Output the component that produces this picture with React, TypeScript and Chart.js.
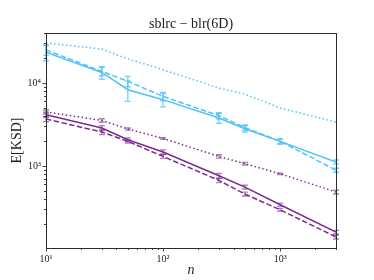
import React, { useEffect, useRef } from 'react';
import { Chart, registerables } from 'chart.js';

Chart.register(...registerables);

// ---- data ----
const nValues = [10, 30, 50, 100, 300, 500, 1000, 3000];

const blueDotted = [30300, 25600, 19500, 14450, 8700, 7360, 5000, 3390];
const blueSolid = [23500, 13400, 8300, 6300, 3790, 2810, 1980, 1120];
const blueDashed = [25000, 13800, 10500, 6900, 4040, 2900, 1990, 890];

const purpleDotted = [4480, 3540, 2790, 2150, 1305, 1067, 807, 486];
const purpleSolid = [4150, 2870, 2075, 1475, 764, 558, 342, 160];
const purpleDashed = [3680, 2570, 1980, 1305, 671, 460, 297, 140];

const blueDottedErr = [0, 0, 0, 0, 0, 0, 0, 0];
const blueSolidErr = [5000, 2300, 2300, 1150, 520, 250, 150, 60];
const blueDashedErr = [3500, 1600, 1500, 800, 350, 220, 120, 50];
const purpleDottedErr = [250, 170, 80, 50, 60, 40, 15, 25];
const purpleSolidErr = [300, 200, 110, 90, 50, 30, 15, 8];
const purpleDashedErr = [250, 180, 90, 70, 40, 25, 12, 8];

const xTickValues = [10, 100, 1000];
const yTickValues = [1000, 10000];

const X_MIN = 10;
const X_MAX = 3000;
const Y_MIN = 103;
const Y_MAX = 40000;

const TITLE = 'sblrc − blr(6D)';
const X_LABEL = 'n';
const Y_LABEL = 'E[KSD]';

const BLUE = '#4fc3f7';
const BLUE_ERR = 'rgba(79,195,247,0.75)';
const PURPLE = '#7b2d8f';
const PURPLE_ERR = 'rgba(123,45,143,0.6)';

const SUP: Record<string, string> = {
  '0': '⁰', '1': '¹', '2': '²', '3': '³', '4': '⁴',
  '5': '⁵', '6': '⁶', '7': '⁷', '8': '⁸', '9': '⁹', '-': '⁻',
};
function powLabel(v: number): string {
  const e = Math.round(Math.log10(v));
  return '10' + String(e).split('').map((c) => SUP[c] || c).join('');
}

const DOTTED = [1.5, 2.5];
const DASHED = [5.5, 2.4];

const titlePlugin = {
  id: 'centeredTitle',
  afterDraw(chart: any) {
    const { ctx, chartArea: a } = chart;
    ctx.save();
    ctx.fillStyle = '#222';
    ctx.font = '14px "Liberation Serif"';
    ctx.textAlign = 'center';
    ctx.textBaseline = 'alphabetic';
    ctx.fillText(TITLE, (a.left + a.right) / 2, 27.5);
    ctx.restore();
  },
};

const framePlugin = {
  id: 'frameTicks',
  afterDraw(chart: any) {
    const { ctx, chartArea: a, scales } = chart;
    const xs = scales.x;
    const ys = scales.y;
    ctx.save();
    ctx.strokeStyle = '#2b2b2b';
    ctx.lineWidth = 0.9;
    ctx.beginPath();
    for (let e = 0; e <= 4; e++) {
      for (let m = 1; m <= 9; m++) {
        const v = m * Math.pow(10, e);
        if (v < X_MIN - 1e-9 || v > X_MAX + 1e-9) continue;
        const px = Math.round(xs.getPixelForValue(v)) + 0.5;
        const len = m === 1 ? 3.5 : 2;
        ctx.moveTo(px, a.bottom);
        ctx.lineTo(px, a.bottom + len);
      }
    }
    for (let e = 1; e <= 5; e++) {
      for (let m = 1; m <= 9; m++) {
        const v = m * Math.pow(10, e);
        if (v < Y_MIN || v > Y_MAX) continue;
        const py = Math.round(ys.getPixelForValue(v)) + 0.5;
        const len = m === 1 ? 3.5 : 2;
        ctx.moveTo(a.left, py);
        ctx.lineTo(a.left - len, py);
      }
    }
    ctx.stroke();
    ctx.lineWidth = 1;
    ctx.strokeRect(
      Math.round(a.left) + 0.5,
      Math.round(a.top) + 0.5,
      Math.round(a.right - a.left),
      Math.round(a.bottom - a.top)
    );
    ctx.restore();
  },
};

const errorBarPlugin = {
  id: 'errorBars',
  afterDatasetsDraw(chart: any) {
    const { ctx, scales } = chart;
    const xs = scales.x;
    const ys = scales.y;
    ctx.save();
    chart.data.datasets.forEach((ds: any, i: number) => {
      if (!chart.isDatasetVisible(i) || !ds.errors) return;
      ctx.strokeStyle = ds.errorColor;
      ctx.lineWidth = 1.4;
      ctx.setLineDash([]);
      ds.data.forEach((v: number, j: number) => {
        const e = ds.errors[j];
        if (!e) return;
        const px = xs.getPixelForValue(nValues[j]);
        const lo = Math.max(v - e, 1);
        const yTop = ys.getPixelForValue(v + e);
        const yBot = ys.getPixelForValue(lo);
        ctx.beginPath();
        ctx.moveTo(px, yTop);
        ctx.lineTo(px, yBot);
        ctx.moveTo(px - 3, yTop);
        ctx.lineTo(px + 3, yTop);
        ctx.moveTo(px - 3, yBot);
        ctx.lineTo(px + 3, yBot);
        ctx.stroke();
      });
    });
    ctx.restore();
  },
};

function makeDataset(
  data: number[],
  errors: number[],
  color: string,
  errColor: string,
  dash: number[]
) {
  return {
    data,
    errors,
    errorColor: errColor,
    borderColor: color,
    backgroundColor: color,
    borderWidth: 1.5,
    borderDash: dash,
    pointRadius: 0,
    tension: 0,
    fill: false,
  };
}

export default function App() {
  const canvasRef = useRef<HTMLCanvasElement | null>(null);

  useEffect(() => {
    document.body.style.margin = '0';
    const canvas = canvasRef.current;
    if (!canvas) return;
    const chart = new Chart(canvas, {
      type: 'line',
      data: {
        labels: nValues,
        datasets: [
          makeDataset(blueDotted, blueDottedErr, BLUE, BLUE_ERR, DOTTED),
          makeDataset(blueSolid, blueSolidErr, BLUE, BLUE_ERR, []),
          makeDataset(blueDashed, blueDashedErr, BLUE, BLUE_ERR, DASHED),
          makeDataset(purpleDotted, purpleDottedErr, PURPLE, PURPLE_ERR, DOTTED),
          makeDataset(purpleSolid, purpleSolidErr, PURPLE, PURPLE_ERR, []),
          makeDataset(purpleDashed, purpleDashedErr, PURPLE, PURPLE_ERR, DASHED),
        ] as any,
      },
      options: {
        animation: false,
        responsive: true,
        maintainAspectRatio: false,
        layout: { padding: { left: 0, right: 38, top: 33, bottom: 0 } },
        plugins: {
          legend: { display: false },
          tooltip: { enabled: false },
          title: { display: false },
        },
        scales: {
          x: {
            type: 'logarithmic',
            min: X_MIN,
            max: X_MAX,
            afterBuildTicks: (scale: any) => {
              scale.ticks = xTickValues.map((v) => ({ value: v, major: true }));
            },
            afterFit: (scale: any) => {
              scale.height = 32;
            },
            grid: { display: false, drawTicks: false },
            border: { display: false },
            ticks: {
              autoSkip: false,
              maxRotation: 0,
              padding: 5,
              color: '#222',
              font: { family: 'Liberation Serif', size: 10 },
              callback: (v: any) => powLabel(Number(v)),
            },
            title: {
              display: true,
              text: X_LABEL,
              color: '#222',
              font: { family: 'Liberation Serif', size: 14, style: 'italic' },
              padding: { top: 0, bottom: 1 },
            },
          },
          y: {
            type: 'logarithmic',
            min: Y_MIN,
            max: Y_MAX,
            afterBuildTicks: (scale: any) => {
              scale.ticks = yTickValues.map((v) => ({ value: v, major: true }));
            },
            afterFit: (scale: any) => {
              scale.width = 46;
            },
            grid: { display: false, drawTicks: false },
            border: { display: false },
            ticks: {
              autoSkip: false,
              padding: 5,
              color: '#222',
              font: { family: 'Liberation Serif', size: 10 },
              callback: (v: any) => powLabel(Number(v)),
            },
            title: {
              display: true,
              text: Y_LABEL,
              color: '#222',
              font: { family: 'Liberation Serif', size: 14 },
              padding: { top: 9, bottom: 0 },
            },
          },
        },
      } as any,
      plugins: [errorBarPlugin, framePlugin, titlePlugin],
    });
    return () => chart.destroy();
  }, []);

  return (
    <div style={{ position: 'relative', width: 374, height: 280 }}>
      <canvas ref={canvasRef} />
    </div>
  );
}
